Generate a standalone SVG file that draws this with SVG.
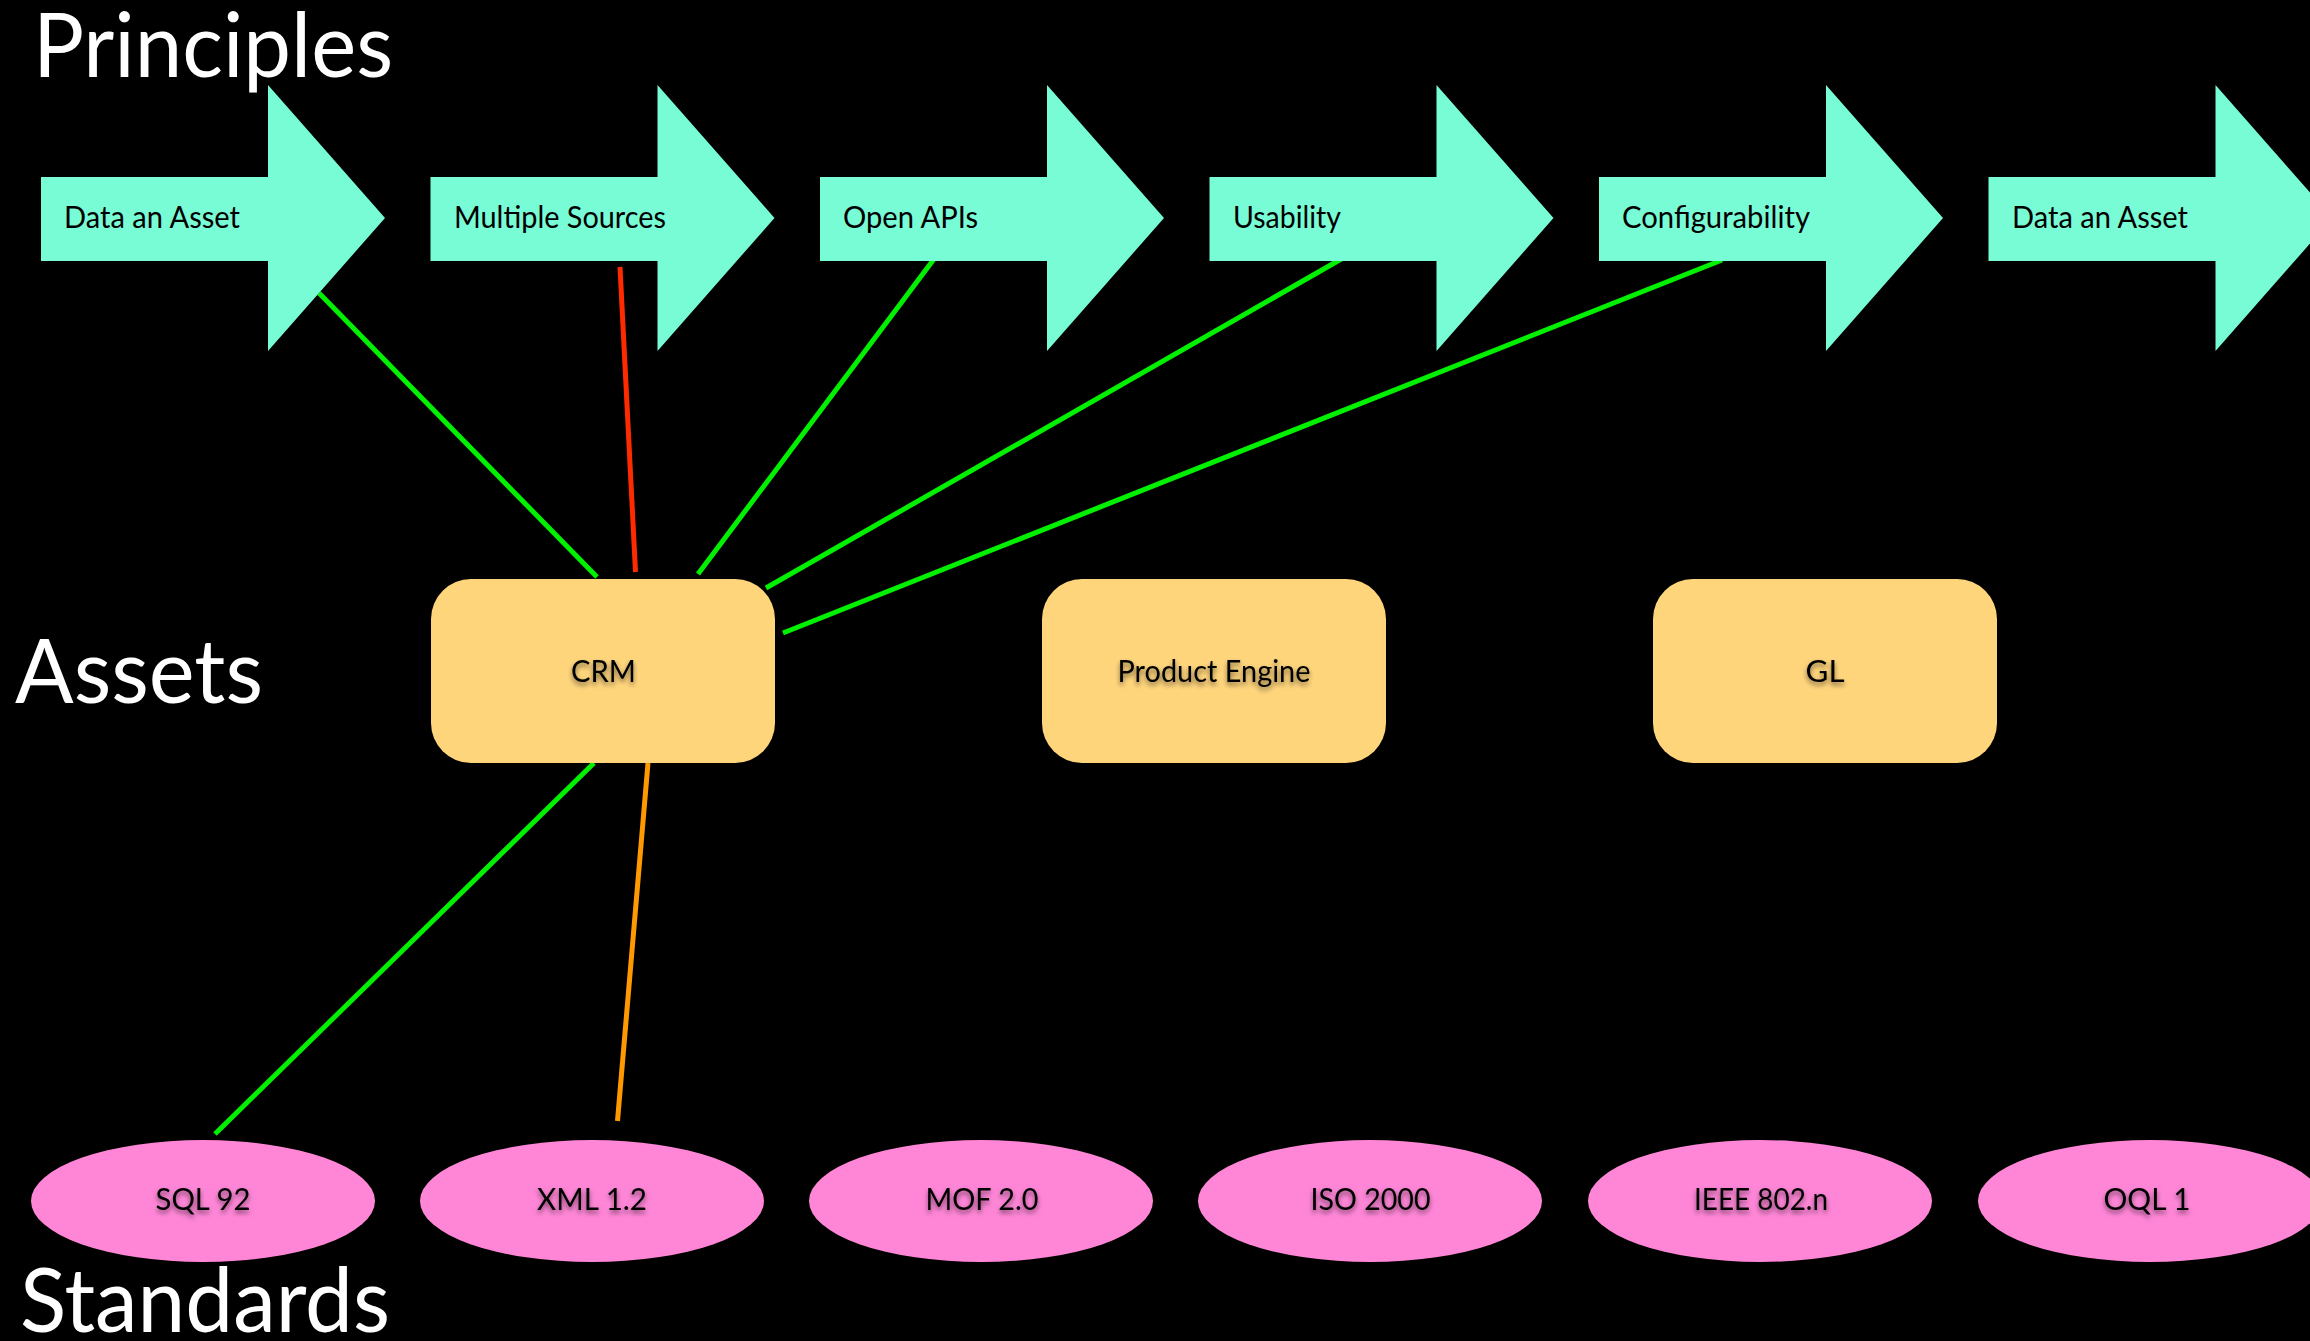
<svg xmlns="http://www.w3.org/2000/svg" xmlns:xlink="http://www.w3.org/1999/xlink" width="2310" height="1341" viewBox="0 0 2310 1341">
<style>
.title{font-family:Lato,"Open Sans","DejaVu Sans",sans-serif;font-size:89px;fill:#ffffff}
.plabel{font-family:Lato,"Open Sans","DejaVu Sans",sans-serif;font-size:30px;fill:#000000}
.nlabel{font-family:Lato,"Open Sans","DejaVu Sans",sans-serif;font-size:30px;fill:#000000;text-anchor:middle;filter:url(#shadow)}
.arrow{fill:#77fcd6}
.asset{fill:#ffd57c}
.std{fill:#ff86d7}
.conn{stroke-width:5;fill:none;stroke-linecap:butt}
.green{stroke:#00f000}
.red{stroke:#ff2a00}
.orange{stroke:#ff9900}
</style>
<defs>
<filter id="shadow" x="-20%" y="-40%" width="140%" height="180%">
<feDropShadow dx="0" dy="3" stdDeviation="2.5" flood-color="#000000" flood-opacity="0.55"/>
</filter>
<path id="arrowShape" d="M0,177 H227 V85 L344,218 L227,351 V261 H0 Z"/>
</defs>
<rect x="0" y="0" width="2310" height="1341" fill="#000000"/>

<g id="titles">
<text class="title" x="33" y="77" textLength="360" lengthAdjust="spacingAndGlyphs">Principles</text>
<text class="title" x="15" y="703" textLength="248" lengthAdjust="spacingAndGlyphs">Assets</text>
<text class="title" x="20" y="1332" textLength="370" lengthAdjust="spacingAndGlyphs">Standards</text>
</g>

<g id="connectors">
<line class="conn green" x1="319" y1="293" x2="597" y2="577"/>
<line class="conn red" x1="620" y1="267" x2="635.5" y2="572"/>
<line class="conn green" x1="934" y1="259" x2="698" y2="574"/>
<line class="conn green" x1="1343" y1="258" x2="766" y2="588"/>
<line class="conn green" x1="1722" y1="260" x2="783" y2="633"/>
<line class="conn green" x1="594" y1="763" x2="215" y2="1134"/>
<line class="conn orange" x1="648" y1="763" x2="617.5" y2="1121"/>
</g>

<g id="principle-1">
<use xlink:href="#arrowShape" class="arrow" transform="translate(41,0)"/>
<text class="plabel" x="64" y="228" textLength="176" lengthAdjust="spacingAndGlyphs">Data an Asset</text>
</g>
<g id="principle-2">
<use xlink:href="#arrowShape" class="arrow" transform="translate(430.5,0)"/>
<text class="plabel" x="454" y="228" textLength="212" lengthAdjust="spacingAndGlyphs">Multiple Sources</text>
</g>
<g id="principle-3">
<use xlink:href="#arrowShape" class="arrow" transform="translate(820,0)"/>
<text class="plabel" x="843" y="228" textLength="135" lengthAdjust="spacingAndGlyphs">Open APIs</text>
</g>
<g id="principle-4">
<use xlink:href="#arrowShape" class="arrow" transform="translate(1209.5,0)"/>
<text class="plabel" x="1233" y="228" textLength="108" lengthAdjust="spacingAndGlyphs">Usability</text>
</g>
<g id="principle-5">
<use xlink:href="#arrowShape" class="arrow" transform="translate(1599,0)"/>
<text class="plabel" x="1622" y="228" textLength="188" lengthAdjust="spacingAndGlyphs">Configurability</text>
</g>
<g id="principle-6">
<use xlink:href="#arrowShape" class="arrow" transform="translate(1988.5,0)"/>
<text class="plabel" x="2012" y="228" textLength="176" lengthAdjust="spacingAndGlyphs">Data an Asset</text>
</g>

<g id="asset-crm">
<rect class="asset" x="431" y="579" width="344" height="184" rx="40" ry="40"/>
<text class="nlabel" x="603.5" y="682" textLength="65" lengthAdjust="spacingAndGlyphs">CRM</text>
</g>
<g id="asset-product-engine">
<rect class="asset" x="1042" y="579" width="344" height="184" rx="40" ry="40"/>
<text class="nlabel" x="1214" y="682" textLength="193" lengthAdjust="spacingAndGlyphs">Product Engine</text>
</g>
<g id="asset-gl">
<rect class="asset" x="1653" y="579" width="344" height="184" rx="40" ry="40"/>
<text class="nlabel" x="1825" y="682" textLength="39" lengthAdjust="spacingAndGlyphs">GL</text>
</g>

<g id="std-sql92">
<ellipse class="std" cx="203" cy="1201" rx="172" ry="61"/>
<text class="nlabel" x="203" y="1210" textLength="95" lengthAdjust="spacingAndGlyphs">SQL 92</text>
</g>
<g id="std-xml12">
<ellipse class="std" cx="592" cy="1201" rx="172" ry="61"/>
<text class="nlabel" x="592" y="1210" textLength="110" lengthAdjust="spacingAndGlyphs">XML 1.2</text>
</g>
<g id="std-mof20">
<ellipse class="std" cx="981" cy="1201" rx="172" ry="61"/>
<text class="nlabel" x="982" y="1210" textLength="113" lengthAdjust="spacingAndGlyphs">MOF 2.0</text>
</g>
<g id="std-iso2000">
<ellipse class="std" cx="1370" cy="1201" rx="172" ry="61"/>
<text class="nlabel" x="1370.5" y="1210" textLength="120" lengthAdjust="spacingAndGlyphs">ISO 2000</text>
</g>
<g id="std-ieee802n">
<ellipse class="std" cx="1760" cy="1201" rx="172" ry="61"/>
<text class="nlabel" x="1761" y="1210" textLength="134" lengthAdjust="spacingAndGlyphs">IEEE 802.n</text>
</g>
<g id="std-oql1">
<ellipse class="std" cx="2150" cy="1201" rx="172" ry="61"/>
<text class="nlabel" x="2147" y="1210" textLength="87" lengthAdjust="spacingAndGlyphs">OQL 1</text>
</g>
</svg>
